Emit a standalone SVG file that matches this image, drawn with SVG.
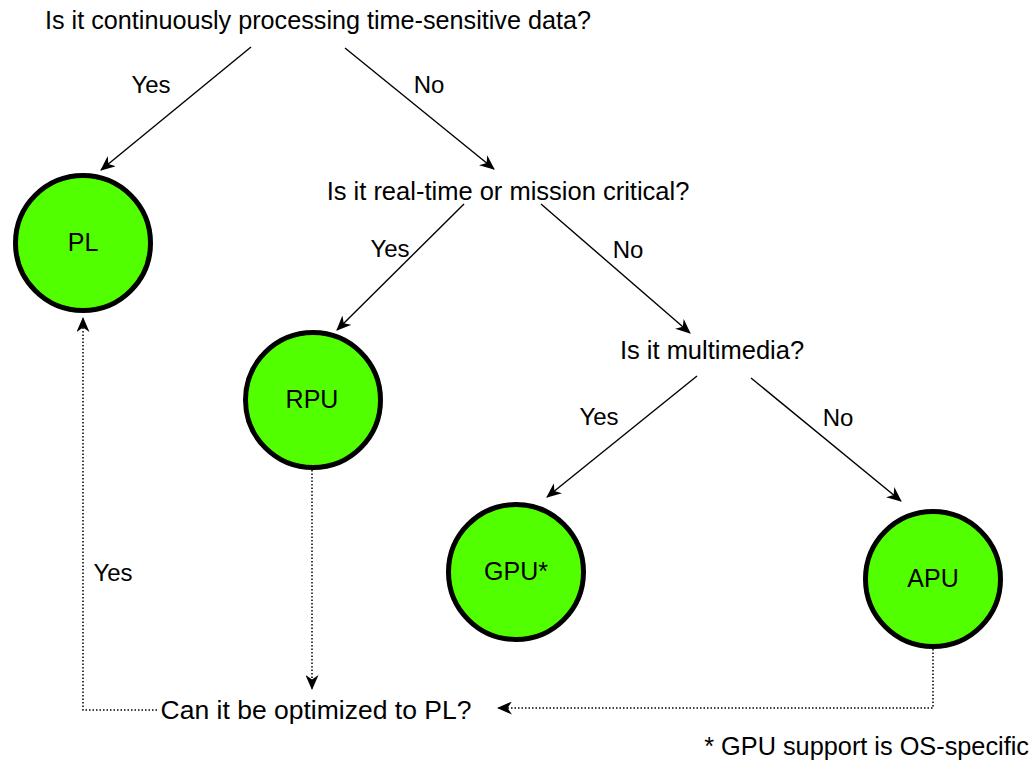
<svg xmlns="http://www.w3.org/2000/svg" width="1034" height="761" viewBox="0 0 1034 761">
<defs>
<style>
text{font-family:"Liberation Sans",Arial,sans-serif;fill:#000}
.q{font-size:25.5px;text-anchor:middle}
.l{font-size:24px;text-anchor:middle}
.n circle{fill:#52ff00;stroke:#000;stroke-width:5}
.n text{font-size:25px;text-anchor:middle}
.e{fill:none;stroke:#000;stroke-width:1.4}
.d{fill:none;stroke:#000;stroke-width:1.5;stroke-dasharray:1.5 2}
</style>
<marker id="a" viewBox="0 0 15 13" refX="14" refY="6.5" markerWidth="15" markerHeight="13" markerUnits="userSpaceOnUse" orient="auto">
<path d="M0,0 L15,6.5 L0,13 L4.5,6.5 Z" fill="#000"/>
</marker>
</defs>
<rect width="1034" height="761" fill="#fff"/>
<g id="q1"><text class="q" style="font-size:25.2px" x="318" y="29">Is it continuously processing time-sensitive data?</text></g>
<g id="q2"><text class="q" x="508" y="200">Is it real-time or mission critical?</text></g>
<g id="q3"><text class="q" x="712" y="359">Is it multimedia?</text></g>
<g id="q4"><text class="q" style="font-size:26.5px" x="316" y="719">Can it be optimized to PL?</text></g>
<g id="pl" class="n"><circle cx="83" cy="243" r="67.5"/><text x="83" y="251">PL</text></g>
<g id="rpu" class="n"><circle cx="313" cy="400" r="67.5"/><text x="312" y="408">RPU</text></g>
<g id="gpu" class="n"><circle cx="516" cy="572" r="67.5"/><text x="516" y="580">GPU*</text></g>
<g id="apu" class="n"><circle cx="933" cy="579" r="67.5"/><text x="933" y="587">APU</text></g>
<g id="connectors">
<line class="e" x1="251" y1="47" x2="101" y2="170" marker-end="url(#a)"/>
<line class="e" x1="345" y1="48" x2="494" y2="169" marker-end="url(#a)"/>
<line class="e" x1="464" y1="204" x2="337" y2="330" marker-end="url(#a)"/>
<line class="e" x1="541" y1="204" x2="690" y2="333" marker-end="url(#a)"/>
<line class="e" x1="697" y1="376" x2="547" y2="497" marker-end="url(#a)"/>
<line class="e" x1="751" y1="378" x2="901" y2="501" marker-end="url(#a)"/>
<path class="d" d="M312,470 V689" marker-end="url(#a)"/>
<path class="d" d="M157,710 H83 V318" marker-end="url(#a)"/>
<path class="d" d="M933,649 V708 H498" marker-end="url(#a)"/>
<text class="l" x="151" y="93">Yes</text>
<text class="l" x="429" y="93">No</text>
<text class="l" x="390" y="257">Yes</text>
<text class="l" x="628" y="258">No</text>
<text class="l" x="599" y="425">Yes</text>
<text class="l" x="838" y="426">No</text>
<text class="l" x="113" y="581">Yes</text>
</g>
<g id="note"><text style="font-size:25.3px;text-anchor:end" x="1029" y="755">* GPU support is OS-specific</text></g>
</svg>
